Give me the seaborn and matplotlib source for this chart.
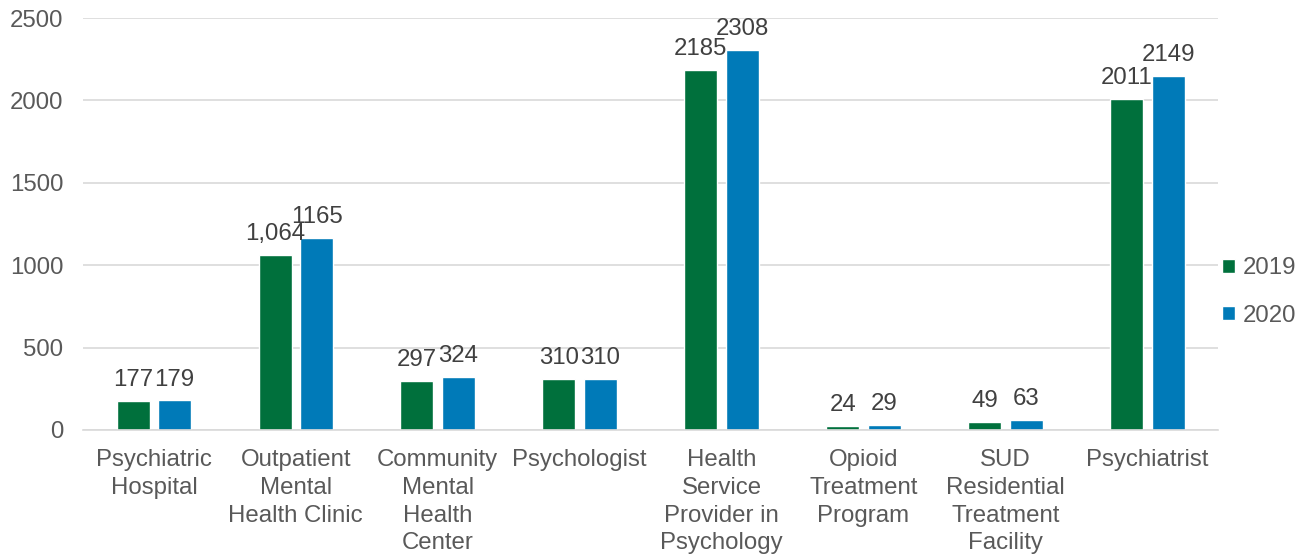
import matplotlib
matplotlib.use("Agg")
import matplotlib.pyplot as plt
import seaborn as sns
import pandas as pd

categories = ["Psychiatric\nHospital", "Outpatient\nMental\nHealth Clinic",
              "Community\nMental\nHealth\nCenter", "Psychologist",
              "Health\nService\nProvider in\nPsychology", "Opioid\nTreatment\nProgram",
              "SUD\nResidential\nTreatment\nFacility", "Psychiatrist"]
v2019 = [177, 1064, 297, 310, 2185, 24, 49, 2011]
v2020 = [179, 1165, 324, 310, 2308, 29, 63, 2149]
labels2019 = ["177", "1,064", "297", "310", "2185", "24", "49", "2011"]
labels2020 = ["179", "1165", "324", "310", "2308", "29", "63", "2149"]
yticks = [0, 500, 1000, 1500, 2000, 2500]

sns.set_style("white")
plt.rcParams['font.family'] = ['Liberation Sans', 'DejaVu Sans']

df = pd.DataFrame({
    "cat": categories * 2,
    "val": v2019 + v2020,
    "year": ["2019"] * len(categories) + ["2020"] * len(categories),
})

FS = 17.3
fig = plt.figure(figsize=(12.96, 5.54), dpi=100)
ax = fig.add_axes([0.064, 0.224, 0.876, 0.7435])
sns.barplot(data=df, x="cat", y="val", hue="year", palette=["#00703C", "#007AB8"],
            width=0.585, gap=0.205, ax=ax, errorbar=None, saturation=1)

for cont, labs in zip(ax.containers, [labels2019, labels2020]):
    ax.bar_label(cont, labels=labs, padding=7, fontsize=FS, color="#404040")

ax.set_ylim(0, 2500)
ax.set_yticks(yticks)
ax.set_yticklabels([str(t) for t in yticks])
ax.set_xlim(-0.5, len(categories) - 0.5)
ax.yaxis.grid(True, color="#D9D9D9", linewidth=1.2)
ax.set_axisbelow(True)
for s in ["top", "right", "left"]:
    ax.spines[s].set_visible(False)
ax.spines["bottom"].set_color("#D9D9D9")
ax.spines["bottom"].set_linewidth(1.2)
ax.tick_params(axis="both", length=0, labelsize=FS, labelcolor="#595959")
ax.tick_params(axis="x", pad=14)
ax.tick_params(axis="y", pad=14)
ax.set_xlabel("")
ax.set_ylabel("")
for t in ax.get_xticklabels():
    t.set_linespacing(1.33)
    t.set_verticalalignment("top")

leg = ax.legend(loc="center left", bbox_to_anchor=(0.995, 0.335), frameon=False,
                fontsize=FS, handlelength=0.55, handleheight=0.55, handletextpad=0.3,
                labelspacing=1.05, borderaxespad=0)
for t in leg.get_texts():
    t.set_color("#595959")

fig.savefig("out.png", dpi=100)
